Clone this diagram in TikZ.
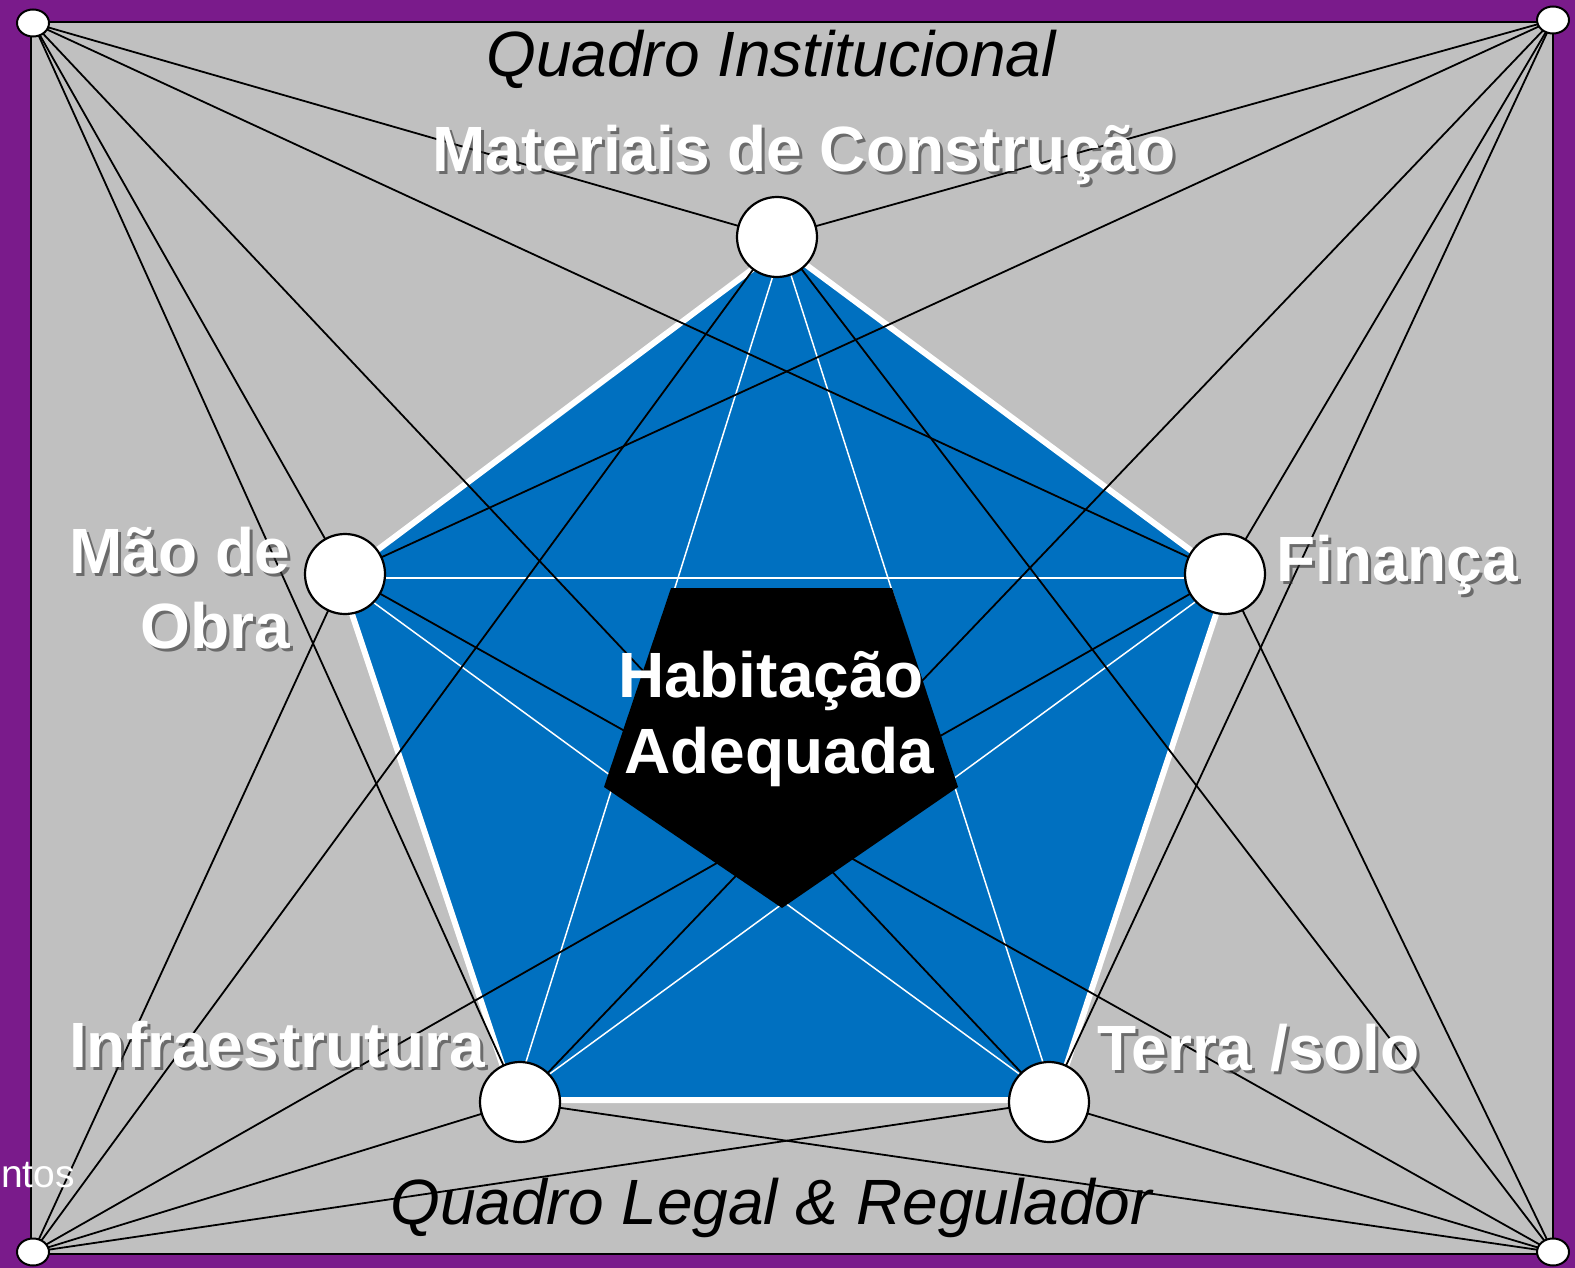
\documentclass[tikz,border=0pt]{standalone}
\usepackage{fontspec}
\setmainfont{Liberation Sans}
\usetikzlibrary{shapes.geometric}
\definecolor{frameviolet}{RGB}{122,27,139}
\definecolor{panelgray}{RGB}{192,192,192}
\definecolor{pentblue}{RGB}{0,112,192}
\newcommand{\castlabel}[4]{%
  \node[lblshadow,anchor=#3] at ([shift={(3,3)}]#2) {#4};
  \node[lbl,anchor=#3] (#1) at (#2) {#4};}
\begin{document}
\begin{tikzpicture}[x=1pt,y=-1pt,
  hub/.style={circle,draw=black,fill=white,line width=2.2pt,minimum size=80pt,inner sep=0pt},
  cornerdot/.style={ellipse,draw=black,fill=white,line width=2pt,minimum width=32pt,minimum height=27pt,inner sep=0pt},
  link/.style={black,line width=1.8pt},
  starline/.style={white,line width=1.5pt},
  lbl/.style={white,font=\fontsize{64}{70}\selectfont\bfseries,inner sep=0pt},
  lblshadow/.style={black!80,opacity=0.6,font=\fontsize{64}{70}\selectfont\bfseries,inner sep=0pt},
  frametitle/.style={black,font=\fontsize{64}{70}\selectfont\itshape,inner sep=0pt}]
\useasboundingbox (0,0) rectangle (1575,1268);
\fill[frameviolet] (0,0) rectangle (1575,1268);
\draw[fill=panelgray,line width=2.5pt] (31,22) rectangle (1553,1254);

% corner and hub centres
\coordinate (ctl) at (33,23);
\coordinate (ctr) at (1553,20);
\coordinate (cbl) at (33,1252);
\coordinate (cbr) at (1553,1252);
\coordinate (hmat) at (777,237);
\coordinate (hmao) at (345,574);
\coordinate (hfin) at (1225,574);
\coordinate (hinf) at (520,1102);
\coordinate (hter) at (1049,1102);

% blue pentagon vertices
\coordinate (pt) at (782,247);
\coordinate (pl) at (340,578);
\coordinate (pr) at (1228,578);
\coordinate (pbl) at (514,1100);
\coordinate (pbr) at (1055,1100);
\draw[fill=pentblue,draw=white,line width=6pt,line join=miter] (pt) -- (pr) -- (pbr) -- (pbl) -- (pl) -- cycle;

% white pentagram
\draw[starline] (pt) -- (pbl);
\draw[starline] (pt) -- (pbr);
\draw[starline] (pl) -- (pr);
\draw[starline] (pl) -- (pbr);
\draw[starline] (pr) -- (pbl);

% black links corner -> hub
\foreach \c in {ctl,ctr,cbl,cbr}{
  \foreach \h in {hmat,hmao,hfin,hinf,hter}{
    \draw[link] (\c) -- (\h);
  }
}

% inner black pentagon
\fill[black] (671,588) -- (892,588) -- (958,787) -- (782,908) -- (604,787) -- cycle;

% hubs
\node[hub] (nmat) at (hmat) {};
\node[hub] (nmao) at (hmao) {};
\node[hub] (nfin) at (hfin) {};
\node[hub] (ninf) at (hinf) {};
\node[hub] (nter) at (hter) {};

% corner dots
\node[cornerdot] (ntl) at (ctl) {};
\node[cornerdot] (ntr) at (ctr) {};
\node[cornerdot] (nbl) at (cbl) {};
\node[cornerdot] (nbr) at (cbr) {};

% titles
\node[frametitle,anchor=base] (tinst) at (771,77) {Quadro Institucional};
\node[frametitle,anchor=base] (tlegal) at (771,1224) {Quadro Legal \& Regulador};

% labels
\castlabel{lmat}{804,172}{base}{Materiais de Construção}
\castlabel{lmao}{290,573}{base east}{Mão de}
\castlabel{lobra}{290,648}{base east}{Obra}
\castlabel{lfin}{1276,581}{base west}{Finança}
\castlabel{linf}{69,1067}{base west}{Infraestrutura}
\castlabel{lter}{1097,1070}{base west}{Terra /solo}

\node[lbl,anchor=base] (lhab) at (771,697) {Habitação};
\node[lbl,anchor=base] (lade) at (779,773) {Adequada};

\node[white,anchor=base west,inner sep=0pt,font=\fontsize{39}{45}\selectfont] (lntos) at (1,1187) {ntos};
\end{tikzpicture}
\end{document}
